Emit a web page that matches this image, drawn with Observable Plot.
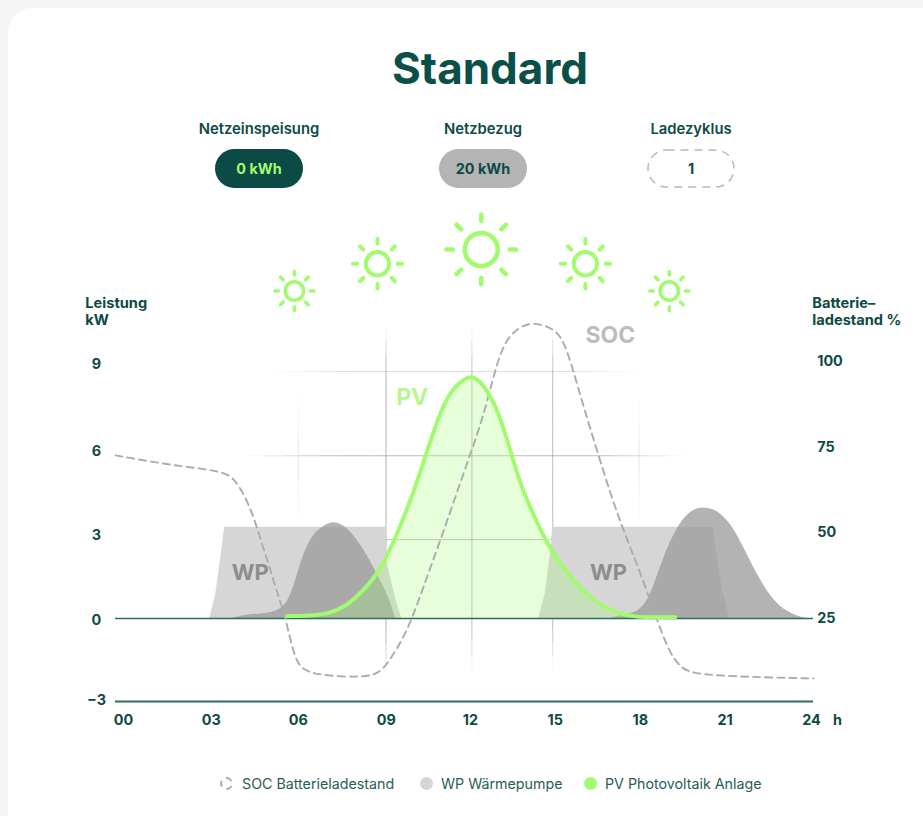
<!DOCTYPE html>
<html lang="de">
<head>
<meta charset="utf-8">
<script src="https://cdn.jsdelivr.net/npm/d3@7"></script>
<script src="https://cdn.jsdelivr.net/npm/@observablehq/plot@0.6"></script>
<style>
html,body{margin:0;padding:0;width:923px;height:816px;overflow:hidden;background:#f5f5f5;font-family:Inter,"Noto Sans",sans-serif;color:#0e4a45}
#card{position:absolute;left:8px;top:8px;width:915px;height:808px;background:#fff;border-top-left-radius:24px}
#page{position:relative;width:923px;height:816px}
h1{position:absolute;left:0;width:980px;top:40px;margin:0;text-align:center;font-size:44px;line-height:56px;font-weight:700;color:#0b4f49}
.kl{position:absolute;top:120px;width:160px;text-align:center;font-size:14.8px;line-height:18px;font-weight:600;color:#0e4a45}
.pill{position:absolute;top:149px;width:88px;height:39px;box-sizing:border-box;border-radius:20px;text-align:center;font-size:14.4px;line-height:39px;font-weight:700}
.pill svg{position:absolute;left:0;top:0}
#plot{position:absolute;left:0;top:200px}
#plot svg{display:block;background:transparent}
#legend span{position:absolute;top:775px;font-size:14.25px;line-height:18px;color:#2a5c57;white-space:nowrap}
#legend i{position:absolute;top:777px;width:13px;height:13px;border-radius:50%;box-sizing:border-box}
</style>
</head>
<body>
<div id="page">
  <div id="card"></div>
  <h1>Standard</h1>
  <div id="kpis"></div>
  <div id="plot"></div>
  <div id="legend"></div>
</div>
<script>
// --- Header figures
const kpiLabels = ["Netzeinspeisung", "Netzbezug", "Ladezyklus"];
const kpiValues = ["0 kWh", "20 kWh", "1"];

// --- Area and line series: [hour, kW]
const wpBlockMorning = [[2.88,0],[3.08,.78],[3.26,2.11],[3.41,3.32],[9.08,3.32],[9.08,2.2],[9.29,1.26],[9.47,.53],[9.64,0]];
const wpBlockAfternoon = [[14.45,0],[14.68,.9],[14.86,2.35],[14.94,3.32],[20.58,3.32],[20.66,2.7],[20.89,1.14],[21.16,0]];
const wpHumpMorning = [[3.67,0],[4.08,.11],[4.55,.15],[5.25,.23],[5.6,.53],[5.84,1.14],[6.07,1.99],[6.42,2.96],[6.89,3.38],[7.3,3.54],[7.71,3.32],[8.18,2.72],[8.65,1.87],[9,1.14],[9.23,.65],[9.41,0]];
const wpHumpEvening = [[16.97,0],[17.32,.11],[17.79,.17],[18.2,.47],[18.49,1.14],[18.84,2.23],[19.31,3.32],[19.78,3.93],[20.31,4.07],[20.83,3.87],[21.3,3.32],[21.77,2.35],[22.24,1.38],[22.71,.65],[23.18,.23],[23.76,0],[24.11,0]];
const pvPower = [[5.6,.085],[6.54,.11],[7.12,.19],[7.71,.47],[8.3,1.02],[8.77,1.62],[9.12,2.28],[9.47,3.07],[10.05,4.58],[10.41,5.73],[10.76,6.82],[11.11,7.79],[11.46,8.4],[11.81,8.7],[12.1,8.82],[12.4,8.62],[12.75,8.11],[13.1,7.32],[13.45,6.11],[13.8,4.9],[14.15,4.05],[14.51,3.2],[14.97,2.35],[15.56,1.5],[16.15,.84],[16.73,.42],[17.32,.17],[17.9,.05],[18.49,.04],[19.25,.05]];
// Battery state of charge: [hour, percent]
const socPercent = [[-.43,72.6],[1.27,70.1],[2.44,68.9],[3.43,67.7],[3.79,65.3],[4.14,60.4],[4.43,54.6],[4.72,46.8],[5.02,39],[5.31,31.2],[5.54,25.4],[5.72,18.6],[5.95,11.8],[6.3,9.3],[7.01,8.3],[8.06,7.9],[8.65,8.4],[9,10.3],[9.35,14.7],[9.64,18.6],[10,25],[10.5,36.6],[10.99,47.8],[11.5,60],[12.05,73.1],[12.4,81.5],[12.69,90],[12.98,99.4],[13.28,106.1],[13.74,110],[14.25,111.5],[14.86,110],[15.21,107.6],[15.44,103.2],[15.68,96.9],[16.03,86.7],[16.5,74],[16.97,61.4],[17.43,50.7],[17.9,41],[18.37,30.3],[18.72,22],[19.08,14.7],[19.43,10.8],[19.78,9.3],[20.36,8.6],[21.42,8.1],[22.59,7.8],[24.11,7.5]];
const percentToKw = p => (p - 25) * 0.1246;

// --- Axis labels: text and where each one sits
const xTickText = ["00","03","06","09","12","15","18","21","24"];
const xTickAt = [-.15,2.94,6,9.09,12.05,15.03,18.02,21,24.04];
const leftTickText = ["9","6","3","0","−3"];
const leftTickAt = [9.24,6.07,3.02,-.07,-2.98];
const rightTickText = ["100","75","50","25"];
const rightTickAt = [9.35,6.22,3.13,0];

// --- Suns: hour, kW-level, size, stroke
const sunHours = [5.86,8.78,12.43,16.09,19.04];
const sunLevels = [11.91,12.9,13.42,12.9,11.91];
const sunSizes = [21,26.5,37.5,26.5,21];
const sunStrokes = [3.6,4,4.6,4,3.6];

// --- Faded grid lines: [position, from, to, peak opacity, fade length]
const gridVertical = [[6,3.3,8.3,.22,3],[9.08,-2,10.6,.6,1.6],[12.1,-1.9,10.6,.5,1.6],[14.94,-1.9,10.6,.5,1.6],[17.98,3.3,8.3,.22,3]];
const gridHorizontal = [[8.98,5.2,18,.28,2.5],[5.92,4.2,19.6,.5,3],[2.87,9.08,14.94,.5,.01]];

// --- Colours
const teal = "#2f6a65", textDark = "#0e4a45", gridGrey = "#8f8f8f";
const green = "#a2fb6f", wpLight = "#d6d6d6", socGrey = "#ababab";

const kpiCentres = [259,483,691];
const kpis = document.getElementById("kpis");
kpiLabels.forEach((t,i) => {
  const l = document.createElement("div");
  l.className = "kl"; l.textContent = t;
  l.style.left = (kpiCentres[i]-80)+"px";
  kpis.appendChild(l);
  const p = document.createElement("div");
  p.className = "pill"; p.textContent = kpiValues[i];
  p.style.left = (kpiCentres[i]-44)+"px";
  if(i===0){p.style.background="#0c4a45";p.style.color="#a2fb6f";}
  if(i===1){p.style.background="#b4b4b4";p.style.color="#0e4a45";}
  if(i===2){
    p.style.color="#0e4a45";
    p.insertAdjacentHTML("beforeend",'<svg width="88" height="39"><rect x="1" y="1" width="86" height="37" rx="18.5" fill="none" stroke="#b8b8b8" stroke-width="1.5" stroke-dasharray="8 6"/></svg>');
  }
  kpis.appendChild(p);
});

const fadeSegments = ([pos,a,b,peak,fade]) => d3.range(24).map(i => {
  const s = a+(b-a)*i/24, e = a+(b-a)*(i+1)/24, m = (s+e)/2;
  return {pos, s, e, o: peak*Math.min(1,(m-a)/fade,(b-m)/fade)};
});
const vSegs = gridVertical.flatMap(fadeSegments);
const hSegs = gridHorizontal.flatMap(fadeSegments);

const X = d => d[0], Y = d => d[1];
const area = (data, fill, opacity=1, curve="basis") =>
  Plot.areaY(data,{x:X,y1:0,y2:Y,fill,fillOpacity:opacity,curve});

const sunMarks = sunHours.map((h,i) => {
  const size = sunSizes[i];
  return Plot.vector([[h,sunLevels[i]]],{
    x:X,y:Y,length:size,anchor:"start",stroke:green,strokeWidth:sunStrokes[i],
    strokeLinecap:"round",fill:"none",
    shape:{draw(ctx,l){
      const rr = l*.44;
      ctx.moveTo(rr,0); ctx.arc(0,0,rr,0,2*Math.PI);
      for(let k=0;k<8;k++){
        const a=k*Math.PI/4, c=Math.cos(a), s=Math.sin(a);
        ctx.moveTo(c*l*.76,s*l*.76); ctx.lineTo(c*l*.93,s*l*.93);
      }
    }}
  });
});

const txt = (data,o) => Plot.text(data,{fontFamily:"Inter",...o});
const at = (labels,pos,x) => labels.map((t,i)=>({t,p:pos[i],x}));

const chart = Plot.plot({
  width:923,height:550,
  marginLeft:115,marginRight:110,marginTop:0,marginBottom:0,
  style:{background:"transparent",overflow:"visible"},
  x:{domain:[-.43,24.11],axis:null},
  y:{domain:[-4.8,15.2],axis:null},
  marks:[
    Plot.ruleX(vSegs,{x:"pos",y1:"s",y2:"e",stroke:gridGrey,strokeWidth:1.2,strokeOpacity:{value:d=>d.o,scale:null}}),
    Plot.ruleY(hSegs,{y:"pos",x1:"s",x2:"e",stroke:gridGrey,strokeWidth:1.2,strokeOpacity:{value:d=>d.o,scale:null}}),
    area(wpBlockMorning,wpLight,1,"linear"),
    area(wpBlockAfternoon,wpLight,1,"linear"),
    area(wpHumpMorning,"#999",.75),
    area(wpHumpEvening,"#999",.75),
    area(pvPower,green,.26),
    Plot.ruleY([0],{x1:-.43,x2:24.11,stroke:teal,strokeWidth:1.4}),
    Plot.ruleY([-3.02],{x1:-.43,x2:24.11,stroke:teal,strokeWidth:2}),
    Plot.line(socPercent,{x:X,y:d=>percentToKw(d[1]),stroke:socGrey,strokeWidth:1.9,strokeDasharray:"7 5",curve:"basis"}),
    Plot.line(pvPower,{x:X,y:Y,stroke:green,strokeWidth:4,curve:"basis"}),
    ...sunMarks,
    txt(["PV"],{x:10,y:8.04,text:d=>d,fill:"#b6f78f",fontSize:23,fontWeight:700}),
    txt(["SOC"],{x:16.97,y:10.29,text:d=>d,fill:"#bcbcbc",fontSize:23,fontWeight:700}),
    txt(["WP","WP"],{x:(d,i)=>[4.31,16.9][i],y:1.64,text:d=>d,fill:"#8d8d8d",fontSize:22,fontWeight:700}),
    txt(xTickText.map((t,i)=>({t,p:xTickAt[i]})),{x:"p",y:-3.72,text:"t",fill:textDark,fontSize:14.4,fontWeight:700}),
    txt(["h"],{x:24.95,y:-3.72,text:d=>d,fill:textDark,fontSize:14.4,fontWeight:700}),
    txt(at(leftTickText,leftTickAt),{x:-1.1,y:"p",text:"t",fill:textDark,fontSize:14.4,fontWeight:700}),
    txt(at(rightTickText,rightTickAt),{x:24.24,y:"p",text:"t",textAnchor:"start",fill:textDark,fontSize:14.4,fontWeight:700}),
    txt(["Leistung","kW"],{x:-1.49,y:(d,i)=>[11.45,10.84][i],text:d=>d,textAnchor:"start",fill:textDark,fontSize:14.6,fontWeight:700}),
    txt(["Batterie–","ladestand %"],{x:24.07,y:(d,i)=>[11.45,10.84][i],text:d=>d,textAnchor:"start",fill:textDark,fontSize:14.6,fontWeight:700})
  ]
});
document.getElementById("plot").appendChild(chart);

// --- Legend
const legendText = ["SOC Batterieladestand","WP Wärmepumpe","PV Photovoltaik Anlage"];
const legendIcon = [220,420,584];
const legendLabel = [242,441,605];
const legend = document.getElementById("legend");
legendText.forEach((t,i)=>{
  const ic = document.createElement("i");
  ic.style.left = legendIcon[i]+"px";
  if(i===0) ic.style.border="2px dashed #aaa";
  if(i===1) ic.style.background="#d6d6d6";
  if(i===2) ic.style.background="#a2fb6f";
  legend.appendChild(ic);
  const s = document.createElement("span");
  s.textContent = t; s.style.left = legendLabel[i]+"px";
  legend.appendChild(s);
});
</script>
</body>
</html>
